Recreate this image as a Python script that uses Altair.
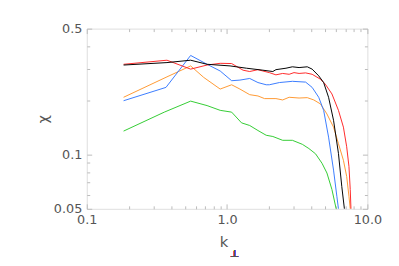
import altair as alt
import pandas as pd

# ---- data ----
k_black = [0.183, 0.373, 0.55, 0.72, 1.05, 1.375, 1.80, 2.12, 2.23, 2.63, 2.92, 3.26, 3.73, 4.04, 4.50, 4.88, 5.29, 5.74, 6.22, 6.57, 6.86, 6.95]
chi_black = [0.314, 0.324, 0.334, 0.317, 0.3105, 0.3015, 0.294, 0.289, 0.296, 0.3015, 0.307, 0.304, 0.307, 0.298, 0.2735, 0.251, 0.208, 0.155, 0.1016, 0.0666, 0.050, 0.045]

k_red = [0.183, 0.373, 0.55, 0.72, 0.893, 1.078, 1.30, 1.45, 1.66, 1.80, 2.0, 2.23, 2.49, 2.77, 3.0, 3.26, 3.63, 4.04, 4.63, 5.01, 5.59, 6.22, 6.75, 7.12, 7.39, 7.55, 7.64, 7.70]
chi_red = [0.317, 0.334, 0.298, 0.314, 0.321, 0.320, 0.294, 0.289, 0.296, 0.291, 0.285, 0.277, 0.282, 0.279, 0.285, 0.282, 0.284, 0.279, 0.262, 0.246, 0.217, 0.176, 0.142, 0.1105, 0.086, 0.064, 0.050, 0.045]

k_blue = [0.183, 0.367, 0.55, 0.72, 0.893, 1.078, 1.234, 1.45, 1.66, 1.90, 2.0, 2.36, 2.92, 3.63, 4.04, 4.50, 4.88, 5.29, 5.74, 6.06, 6.22, 6.30]
chi_blue = [0.199, 0.236, 0.355, 0.317, 0.291, 0.257, 0.259, 0.2645, 0.251, 0.244, 0.244, 0.251, 0.255, 0.2525, 0.236, 0.208, 0.176, 0.125, 0.082, 0.0587, 0.050, 0.046]

k_orange = [0.183, 0.373, 0.55, 0.682, 0.893, 1.078, 1.234, 1.45, 1.66, 1.85, 2.23, 2.49, 2.77, 3.26, 3.73, 4.15, 4.63, 5.15, 5.74, 6.22, 6.75, 7.12, 7.39, 7.55, 7.60]
chi_orange = [0.208, 0.270, 0.3105, 0.268, 0.231, 0.244, 0.231, 0.215, 0.2115, 0.2045, 0.2045, 0.201, 0.208, 0.206, 0.207, 0.201, 0.191, 0.168, 0.142, 0.115, 0.093, 0.0756, 0.0587, 0.050, 0.046]

k_green = [0.183, 0.357, 0.55, 0.72, 0.893, 1.078, 1.268, 1.45, 1.66, 1.90, 2.12, 2.49, 2.92, 3.44, 3.83, 4.27, 4.75, 5.15, 5.59, 5.99, 6.05]
chi_green = [0.135, 0.172, 0.198, 0.187, 0.176, 0.172, 0.150, 0.145, 0.136, 0.128, 0.126, 0.120, 0.120, 0.114, 0.108, 0.101, 0.0895, 0.079, 0.064, 0.050, 0.047]

series_names = ["green", "orange", "blue", "red", "black"]
series_colors = ["#33cc33", "#ff9933", "#3a7cff", "#ff2a2a", "#000000"]
series_k = [k_green, k_orange, k_blue, k_red, k_black]
series_chi = [chi_green, chi_orange, chi_blue, chi_red, chi_black]

x_major = [0.1, 1, 10]
x_minor = [0.2, 0.3, 0.4, 0.5, 0.6, 0.7, 0.8, 0.9, 2, 3, 4, 5, 6, 7, 8, 9]
y_major = [0.05, 0.1, 0.5]
y_minor = [0.06, 0.07, 0.08, 0.09, 0.2, 0.3, 0.4]

rows = []
for name, ks, cs in zip(series_names, series_k, series_chi):
    for i, (kv, cv) in enumerate(zip(ks, cs)):
        rows.append({"series": name, "k": kv, "chi": cv, "i": i})
df = pd.DataFrame(rows)

W, H = 285, 183
FONT = "DejaVu Sans"
LABEL_COLOR = "#555555"
TICK_COLOR = "#bbbbbb"

xs = alt.Scale(type="log", domain=[0.1, 10])
ys = alt.Scale(type="log", domain=[0.05, 0.5])

lines = alt.Chart(df).mark_line(clip=True, strokeWidth=1).encode(
    x=alt.X("k:Q", scale=xs, axis=alt.Axis(
        values=x_major, format=".1f", ticks=False, domain=False, grid=False,
        labelFont=FONT, labelFontSize=13, labelColor=LABEL_COLOR, labelPadding=5,
        labelFlush=False, labelOverlap=False,
        title="k", titleFont=FONT, titleFontSize=15, titleFontWeight="normal",
        titleColor=LABEL_COLOR, titlePadding=8, titleX=139)),
    y=alt.Y("chi:Q", scale=ys, axis=alt.Axis(
        values=y_major, format="~g", ticks=False, domain=False, grid=False,
        labelFont=FONT, labelFontSize=13, labelColor=LABEL_COLOR, labelPadding=5,
        labelFlush=False, labelOverlap=False,
        title="χ", titleFont=FONT, titleFontSize=15, titleFontWeight="normal",
        titleColor=LABEL_COLOR, titlePadding=3)),
    color=alt.Color("series:N", scale=alt.Scale(domain=series_names, range=series_colors), legend=None),
    order=alt.Order("i:Q"),
)


def tick_layer(x_orient, y_orient, xvals, yvals, size):
    return alt.Chart(df).mark_line(opacity=0, clip=True).encode(
        x=alt.X("k:Q", scale=xs, axis=alt.Axis(
            orient=x_orient, offset=-H, values=xvals, labels=False, domain=False,
            grid=False, tickSize=size, tickColor=TICK_COLOR, title=None)),
        y=alt.Y("chi:Q", scale=ys, axis=alt.Axis(
            orient=y_orient, offset=-W, values=yvals, labels=False, domain=False,
            grid=False, tickSize=size, tickColor=TICK_COLOR, title=None)),
        detail="series:N",
    )


sub = alt.Chart(df).mark_text(
    text="⊥", font=FONT, fontSize=10, color=LABEL_COLOR, baseline="middle", align="center"
).encode(x=alt.value(150), y=alt.value(229))

chart = alt.layer(
    lines,
    tick_layer("top", "right", x_minor, y_minor, 3),
    tick_layer("top", "right", x_major, y_major, 5),
    tick_layer("bottom", "left", x_minor, y_minor, 3),
    tick_layer("bottom", "left", x_major, y_major, 5),
    sub,
).resolve_axis(x="independent", y="independent").properties(
    width=W, height=H,
    autosize=alt.AutoSizeParams(type="none"),
    padding={"left": 80, "top": 19, "right": 24, "bottom": 48},
).configure_view(stroke="#c8c8c8", strokeWidth=1).configure(background="white")

chart.save("out.html", embed_options={"renderer": "svg", "actions": False})
